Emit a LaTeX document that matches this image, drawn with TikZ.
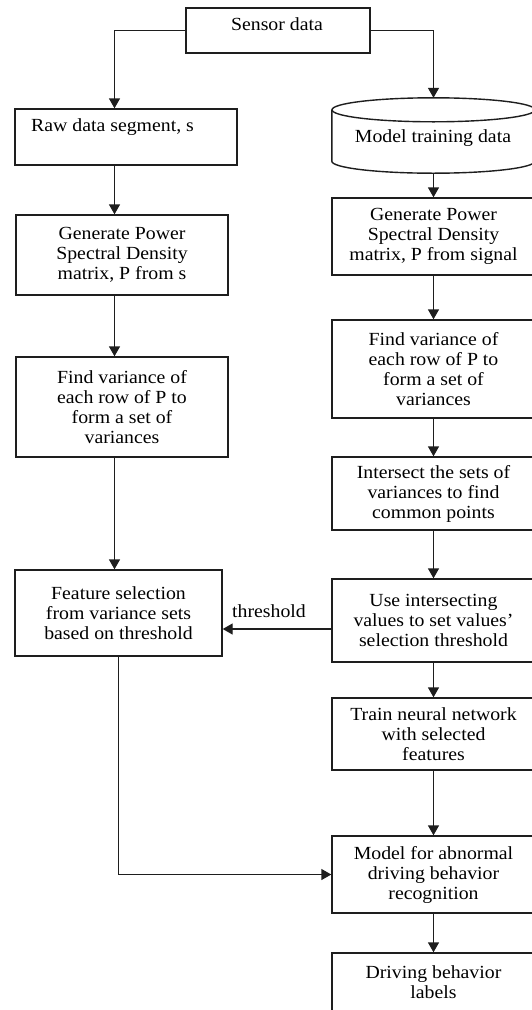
\documentclass[tikz,border=0pt]{standalone}
\usepackage{fontspec}
\setmainfont{Liberation Serif}[FakeStretch=1.07]
\usetikzlibrary{arrows.meta}
\definecolor{ink}{RGB}{30,30,30}
\begin{document}
\begin{tikzpicture}[x=1pt,y=-1pt,
  every node/.style={font=\fontsize{18.5}{20}\selectfont, text=black},
  box/.style={draw=ink, line width=1.4pt, rectangle, inner sep=0pt, align=center},
  lbl/.style={inner sep=0pt},
  arr/.style={draw=ink, line width=1.4pt, -{Triangle[length=10pt,width=11pt]}},
  ln/.style={draw=ink, line width=1.4pt}]
\useasboundingbox (0,0) rectangle (532,1010);
\clip (0,0) rectangle (532,1010);
\fill[white] (0,0) rectangle (532,1010);

% top
\node[box, minimum width=184pt, minimum height=45pt] (sensor) at (278,30.5) {};
\node[lbl] (sensortxt) at (277,24) {Sensor data};

% left column
\coordinate (colL) at (114.5,0);
\node[box, minimum width=222pt, minimum height=56pt] (raw) at (126,137) {};
\node[lbl, anchor=west] (rawtxt) at (31,127) {Raw data segment, s};
\node[box, minimum width=212pt, minimum height=80pt] (psdL) at (122,255)
  {Generate Power\\Spectral Density\\matrix, P from s};
\node[box, minimum width=212pt, minimum height=100pt] (varL) at (122,407)
  {Find variance of\\each row of P to\\form a set of\\variances};
\node[box, minimum width=207pt, minimum height=86pt] (feat) at (118.5,613)
  {Feature selection\\from variance sets\\based on threshold};

% right column
\node[minimum width=203pt, minimum height=75pt, inner sep=0pt] (cyl) at (433.5,135.5) {};
\draw[ln] ([yshift=-12pt]cyl.north) ellipse [x radius=101.5pt, y radius=12pt];
\draw[ln] ([yshift=-12pt]cyl.north west) -- ([yshift=12pt]cyl.south west)
  arc[start angle=180, end angle=360, x radius=101.5pt, y radius=12pt]
  -- ([yshift=-12pt]cyl.north east);
\node[lbl] (cyltxt) at (433,138) {Model training data};

\node[box, minimum width=203pt, minimum height=77pt] (psdR) at (433.5,236.5)
  {Generate Power\\Spectral Density\\matrix, P from signal};
\node[box, minimum width=203pt, minimum height=98pt] (varR) at (433.5,369)
  {Find variance of\\each row of P to\\form a set of\\variances};
\node[box, minimum width=203pt, minimum height=73pt] (intR) at (433.5,493.5)
  {Intersect the sets of\\variances to find\\common points};
\node[box, minimum width=203pt, minimum height=83pt] (useR) at (433.5,620.5)
  {Use intersecting\\values to set values'\\selection threshold};
\node[box, minimum width=203pt, minimum height=72pt] (train) at (433.5,734)
  {Train neural network\\with selected\\features};
\node[box, minimum width=203pt, minimum height=77pt] (model) at (433.5,874.5)
  {Model for abnormal\\driving behavior\\recognition};
\node[box, minimum width=203pt, minimum height=59pt] (drive) at (433.5,982.5)
  {Driving behavior\\labels};

% connectors
\draw[arr] (sensor.west) -| (colL |- raw.north);
\draw[arr] (sensor.east) -| (cyl.north);
\draw[arr] (colL |- raw.south) -- (colL |- psdL.north);
\draw[arr] (colL |- psdL.south) -- (colL |- varL.north);
\draw[arr] (colL |- varL.south) -- (colL |- feat.north);

\draw[arr] (cyl.south) -- (psdR.north);
\draw[arr] (psdR.south) -- (varR.north);
\draw[arr] (varR.south) -- (intR.north);
\draw[arr] (intR.south) -- (useR.north);
\draw[arr] (useR.south) -- (train.north);
\draw[arr] (train.south) -- (model.north);
\draw[arr] (model.south) -- (drive.north);

\coordinate (thr) at (0,629);
\draw[arr] (useR.west |- thr) -- (feat.east |- thr);
\node[lbl] (thrtxt) at (269,611) {threshold};

\draw[arr] (feat.south) |- (model.west);
\end{tikzpicture}
\end{document}
